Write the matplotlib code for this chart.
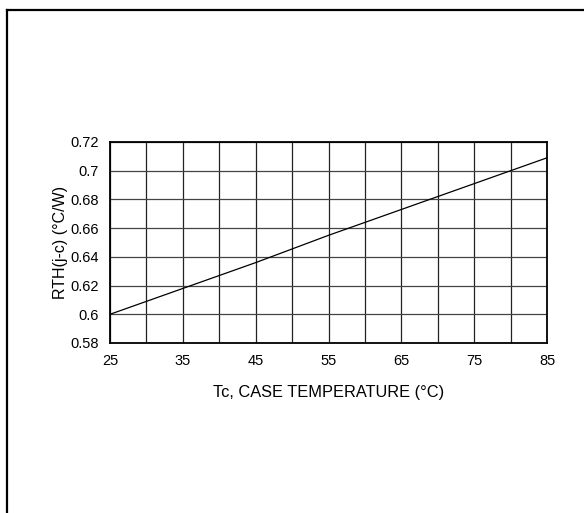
import matplotlib

matplotlib.use("Agg")
import matplotlib.pyplot as plt
from matplotlib.lines import Line2D

plt.rcParams["font.family"] = ["Liberation Sans", "DejaVu Sans"]

# case temperature (°C) and junction-to-case thermal resistance (°C/W)
temp = [25, 35, 45, 55, 65, 75, 85]
rth = [0.600, 0.618, 0.636, 0.655, 0.673, 0.691, 0.709]

xticks = [25, 35, 45, 55, 65, 75, 85]
xgrid = [25, 30, 35, 40, 45, 50, 55, 60, 65, 70, 75, 80, 85]
yticks = [0.58, 0.6, 0.62, 0.64, 0.66, 0.68, 0.7, 0.72]
ytick_labels = ["0.58", "0.6", "0.62", "0.64", "0.66", "0.68", "0.7", "0.72"]

fig = plt.figure(figsize=(5.84, 5.13), dpi=100)
ax = fig.add_axes([0.1884, 0.3314, 0.7483, 0.3918])

# outer frame (left and top edges visible)
fig.add_artist(Line2D([7 / 584, 7 / 584], [0, 1 - 10 / 513], color="black", lw=1.6))
fig.add_artist(Line2D([7 / 584, 1], [1 - 10 / 513, 1 - 10 / 513], color="black", lw=1.6))

for x in xgrid:
    ax.axvline(x, color="#222222", lw=0.9, zorder=1)
for y in yticks:
    ax.axhline(y, color="#444444", lw=0.9, zorder=1)

ax.plot(temp, rth, color="black", lw=0.9, zorder=3)

ax.set_xlim(25, 85)
ax.set_ylim(0.58, 0.72)
ax.set_xticks(xticks)
ax.set_yticks(yticks)
ax.set_yticklabels(ytick_labels)
ax.tick_params(length=0, labelsize=10.5)
ax.tick_params(axis="x", pad=8)
ax.tick_params(axis="y", pad=8)
for s in ax.spines.values():
    s.set_linewidth(1.3)
    s.set_zorder(4)

ax.set_xlabel("Tc, CASE TEMPERATURE (°C)", fontsize=11.8, labelpad=12)
ax.set_ylabel("RTH(j-c) (°C/W)", fontsize=11.5, labelpad=2)

plt.savefig("out.png", dpi=100)
